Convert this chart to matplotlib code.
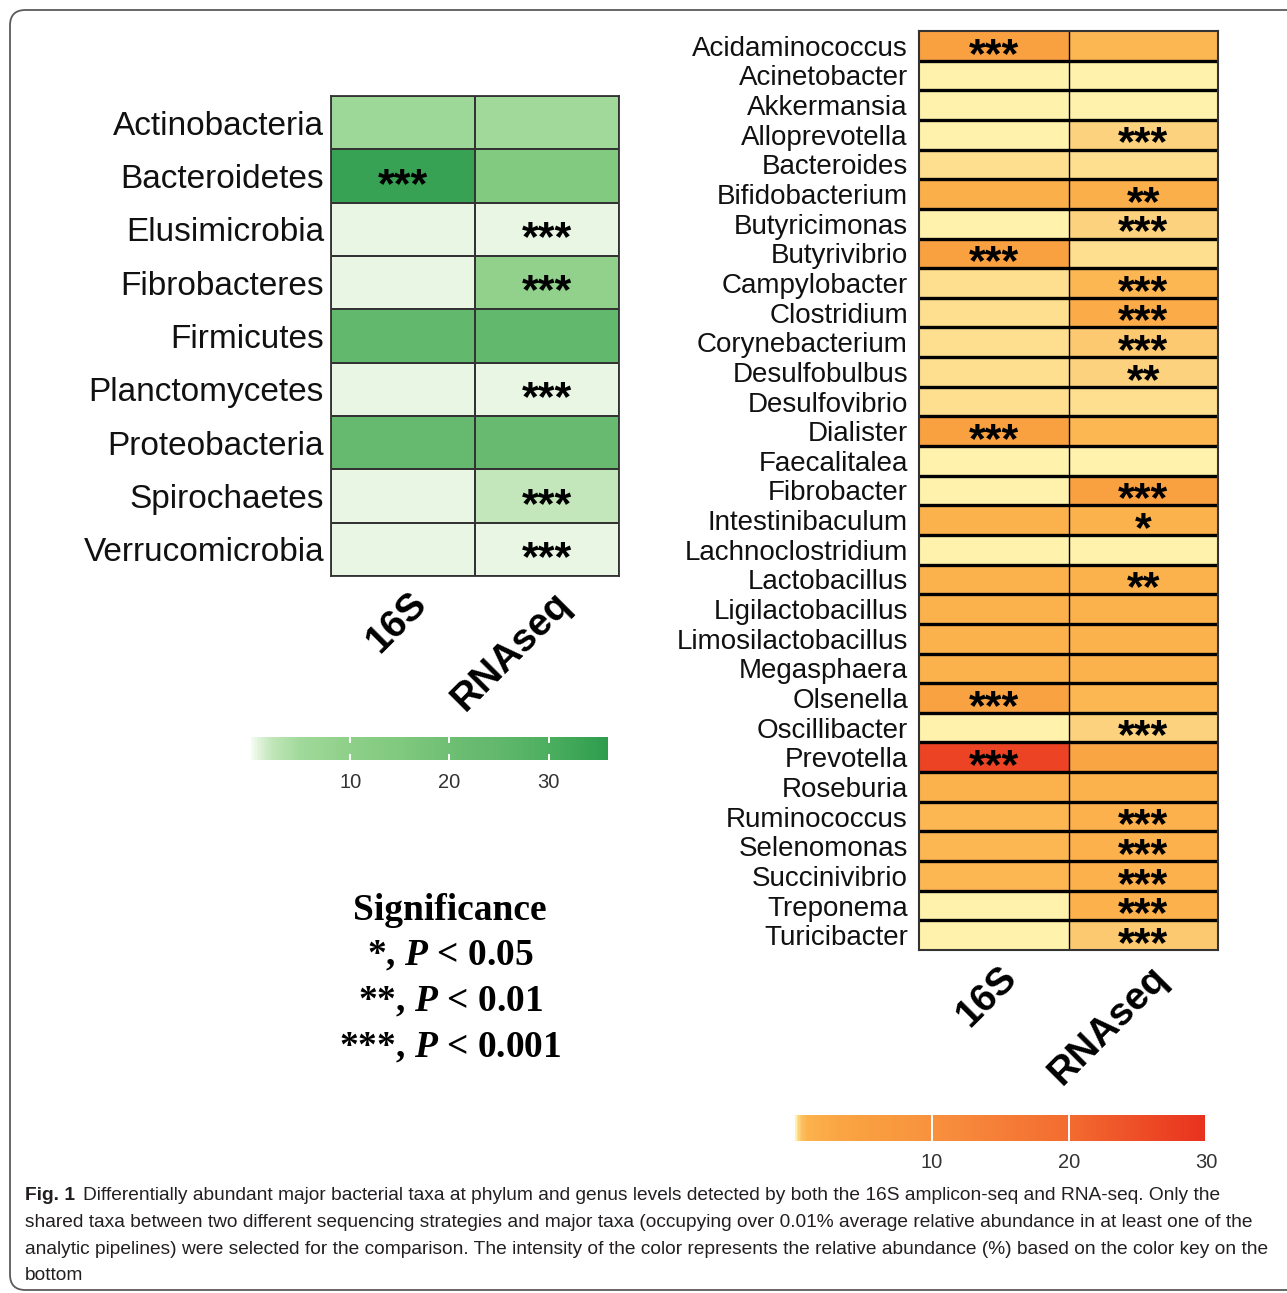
import numpy as np
import matplotlib
matplotlib.use('Agg')
import matplotlib.pyplot as plt
import matplotlib.transforms as mtrans
from matplotlib.colors import LinearSegmentedColormap, Normalize
from matplotlib.cm import ScalarMappable
from matplotlib.patches import FancyBboxPatch
from matplotlib import font_manager

plt.rcParams['font.family'] = 'Liberation Sans'
plt.rcParams['mathtext.fontset'] = 'custom'
plt.rcParams['mathtext.rm'] = 'Liberation Serif:bold'
plt.rcParams['mathtext.bf'] = 'Liberation Serif:bold'
plt.rcParams['mathtext.it'] = 'Liberation Serif:italic:bold'

# ---------------- data ----------------
columns = ['16S', 'RNAseq']

phyla = ['Actinobacteria', 'Bacteroidetes', 'Elusimicrobia', 'Fibrobacteres',
         'Firmicutes', 'Planctomycetes', 'Proteobacteria', 'Spirochaetes',
         'Verrucomicrobia']
phylum_16s = [5.5, 34, 0.5, 0.5, 25, 0.5, 23, 0.5, 0.5]
phylum_rna = [5, 14, 0.5, 9, 25, 0.5, 22.5, 2, 0.5]
phylum_sig_16s = ['', '***', '', '', '', '', '', '', '']
phylum_sig_rna = ['', '', '***', '***', '', '***', '', '***', '***']

genera = ['Acidaminococcus', 'Acinetobacter', 'Akkermansia', 'Alloprevotella',
          'Bacteroides', 'Bifidobacterium', 'Butyricimonas', 'Butyrivibrio',
          'Campylobacter', 'Clostridium', 'Corynebacterium', 'Desulfobulbus',
          'Desulfovibrio', 'Dialister', 'Faecalitalea', 'Fibrobacter',
          'Intestinibaculum', 'Lachnoclostridium', 'Lactobacillus',
          'Ligilactobacillus', 'Limosilactobacillus', 'Megasphaera',
          'Olsenella', 'Oscillibacter', 'Prevotella', 'Roseburia',
          'Ruminococcus', 'Selenomonas', 'Succinivibrio', 'Treponema',
          'Turicibacter']
genus_16s = [5, 0.06, 0.06, 0.02, 0.15, 1.5, 0.02, 5, 0.15, 0.15, 0.12, 0.12,
             0.12, 5, 0.06, 0.02, 1, 0.08, 1, 1, 1, 1, 4.5, 0.02, 27, 1,
             0.8, 0.8, 0.8, 0.02, 0.02]
genus_rna = [0.8, 0.06, 0.04, 0.3, 0.12, 1.5, 0.3, 0.15, 0.8, 2, 0.4, 0.3,
             0.12, 0.8, 0.06, 5, 1, 0.06, 1, 1, 1, 1, 0.8, 0.25, 3.5, 1,
             1.2, 1.2, 1.2, 1.2, 0.4]
genus_sig_16s = ['***', '', '', '', '', '', '', '***', '', '', '', '', '',
                 '***', '', '', '', '', '', '', '', '', '***', '', '***', '',
                 '', '', '', '', '']
genus_sig_rna = ['', '', '', '***', '', '**', '***', '', '***', '***', '***',
                 '**', '', '', '', '***', '*', '', '**', '', '', '', '',
                 '***', '', '', '***', '***', '***', '***', '***']

cbar_ticks = [10, 20, 30]

# colour keys (value, colour)
green_max = 36
green_nodes = [(0, '#f6fcf3'), (0.5, '#e5f5e0'), (2, '#c2e6ba'), (5, '#a0d99a'),
               (10, '#8ecf89'), (15, '#80c97f'), (22, '#68bb70'),
               (25, '#62b86d'), (30, '#4caf5f'), (36, '#2e9c4e')]
orange_max = 30
orange_nodes = [(0, '#fff2ac'), (0.03, '#ffeba0'), (0.08, '#fee394'),
                (0.15, '#fed98a'), (0.3, '#fdcd77'), (0.5, '#fcbd5e'),
                (0.8, '#fcb34d'), (3, '#faa645'), (5, '#f9a040'),
                (10, '#f8913e'), (20, '#f36b30'), (30, '#e8321e')]


def make_cmap(name, nodes, vmax):
    return LinearSegmentedColormap.from_list(name, [(v / vmax, c) for v, c in nodes])


green = make_cmap('grn', green_nodes, green_max)
orange = make_cmap('org', orange_nodes, orange_max)

names = {f.name for f in font_manager.fontManager.ttflist}
if 'Liberation Sans Narrow' in names:
    genus_font, genus_size = 'Liberation Sans Narrow', 24
else:
    genus_font, genus_size = 'Liberation Sans', 20

W, H = 1287, 1293
fig = plt.figure(figsize=(W / 100, H / 100), dpi=100)


def fbox(x0, y0, x1, y1):
    # pixel box (from top-left) -> figure fraction
    return [x0 / W, 1 - y1 / H, (x1 - x0) / W, (y1 - y0) / H]


bg = fig.add_axes([0, 0, 1, 1])
bg.set_xlim(0, 1)
bg.set_ylim(0, 1)
bg.axis('off')
bg.add_patch(FancyBboxPatch((10 / W, 3 / H), 1.2, 1 - 13 / H,
                            boxstyle='round,pad=0,rounding_size=0.012',
                            fc='none', ec='#5a5a5a', lw=1.3,
                            transform=bg.transAxes, clip_on=False))

STAR_FS = 31


def star_text(ax, sig, x, y, fs=STAR_FS):
    ax.annotate(sig, xy=(x, y), xytext=(0, -(0.58 * fs - 3)),
                textcoords='offset points', ha='center', va='baseline',
                fontsize=fs, fontweight='bold', color='black')


def col_labels(ax):
    ax.set_xticks([0.5, 1.5])
    ax.set_xticklabels(columns, rotation=45, ha='right', va='center',
                       rotation_mode='anchor', fontsize=28, fontweight='bold')
    ax.tick_params(axis='x', length=0, pad=0)
    off = mtrans.ScaledTranslation(13 / 72, -16 / 72, fig.dpi_scale_trans)
    for lab in ax.get_xticklabels():
        lab.set_transform(lab.get_transform() + off)


# ---------------- phylum heatmap ----------------
ax1 = fig.add_axes(fbox(331, 96, 619, 576))
vals1 = np.column_stack([phylum_16s, phylum_rna])
ax1.pcolormesh(np.arange(3), np.arange(len(phyla) + 1), vals1, cmap=green,
               norm=Normalize(0, green_max), edgecolors='#333333', linewidth=1.3)
ax1.set_xlim(0, 2)
ax1.set_ylim(len(phyla), 0)
ax1.set_yticks(np.arange(len(phyla)) + 0.5)
ax1.set_yticklabels(phyla, fontsize=24, color='#111111')
ax1.tick_params(axis='y', length=0, pad=5)
for sp in ax1.spines.values():
    sp.set_color('#333333')
    sp.set_linewidth(1.3)
col_labels(ax1)
for i in range(len(phyla)):
    for j, s in enumerate([phylum_sig_16s[i], phylum_sig_rna[i]]):
        if s:
            star_text(ax1, s, j + 0.5, i + 0.5)

# ---------------- genus heatmap ----------------
ax2 = fig.add_axes(fbox(919, 31, 1218, 950))
vals2 = np.column_stack([genus_16s, genus_rna])
ax2.pcolormesh(np.arange(3), np.arange(len(genera) + 1), vals2, cmap=orange,
               norm=Normalize(0, orange_max))
ax2.set_xlim(0, 2)
ax2.set_ylim(len(genera), 0)
for k in range(1, len(genera)):
    ax2.axhline(k, color='black', lw=2.4)
ax2.axvline(1, color='black', lw=1.0)
ax2.set_yticks(np.arange(len(genera)) + 0.5)
ax2.set_yticklabels(genera, fontsize=genus_size, family=genus_font,
                    color='#111111')
ax2.tick_params(axis='y', length=0, pad=8)
for sp in ax2.spines.values():
    sp.set_color('#333333')
    sp.set_linewidth(1.5)
col_labels(ax2)
for i in range(len(genera)):
    for j, s in enumerate([genus_sig_16s[i], genus_sig_rna[i]]):
        if s:
            star_text(ax2, s, j + 0.5, i + 0.5)

# ---------------- colour keys ----------------
for box, cmap, vmax, tlen in [(fbox(251, 737, 608, 760), green, green_max, 4),
                              (fbox(795, 1115, 1206, 1141), orange, orange_max, 10)]:
    cax = fig.add_axes(box)
    cb = fig.colorbar(ScalarMappable(Normalize(0, vmax), cmap), cax=cax,
                      orientation='horizontal')
    cb.outline.set_visible(False)
    cb.set_ticks(cbar_ticks)
    cax.tick_params(axis='x', direction='in', top=True, bottom=True,
                    labeltop=False, color='white', width=1.4, length=tlen,
                    labelsize=14.5, labelcolor='#333333', pad=9)

# ---------------- significance legend ----------------
sig_lines = ['Significance', r'*, $P$ < 0.05', r'**, $P$ < 0.01',
             r'***, $P$ < 0.001']
for k, line in enumerate(sig_lines):
    bg.text(450 / W, 1 - (910 + 46 * k) / H, line, ha='center', va='center',
            fontsize=27, family='Liberation Serif', fontweight='bold')

# ---------------- caption ----------------
caption = ['Differentially abundant major bacterial taxa at phylum and genus levels detected by both the 16S amplicon-seq and RNA-seq. Only the',
           'shared taxa between two different sequencing strategies and major taxa (occupying over 0.01% average relative abundance in at least one of the',
           'analytic pipelines) were selected for the comparison. The intensity of the color represents the relative abundance (%) based on the color key on the',
           'bottom']
cap_fs = 13.75
figlab = bg.text(25 / W, 1 - 1200 / H, 'Fig. 1', fontsize=cap_fs,
                 fontweight='bold', va='baseline', color='#231f20')
bg.annotate(caption[0], xy=(1, 0), xycoords=figlab, xytext=(6, 0),
            textcoords='offset points', va='bottom', fontsize=cap_fs,
            color='#231f20')
for k, line in enumerate(caption[1:]):
    bg.text(25 / W, 1 - (1227 + 26.5 * k) / H, line, fontsize=cap_fs,
            va='baseline', color='#231f20')

fig.savefig('out.png', dpi=100)
